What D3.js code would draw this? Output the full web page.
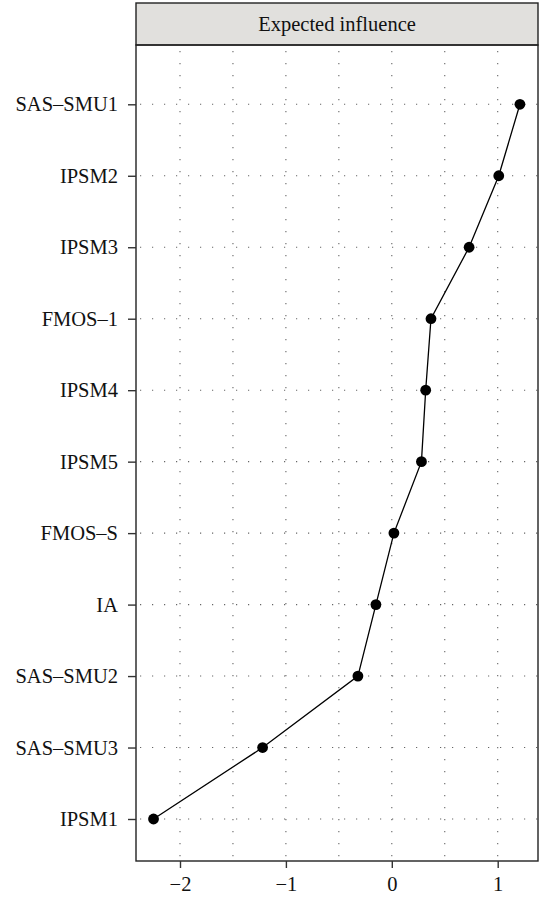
<!DOCTYPE html>
<html>
<head>
<meta charset="utf-8">
<script src="https://cdn.jsdelivr.net/npm/d3@7"></script>
<style>
  html, body { margin: 0; padding: 0; background: #fff; }
  svg { display: block; }
  text { font-family: "Liberation Serif", "DejaVu Serif", serif; fill: #111; }
</style>
</head>
<body>
<svg id="chart" width="545" height="904"></svg>
<script>
// Nodes in display order (top to bottom)
const nodes = ["SAS\u2013SMU1", "IPSM2", "IPSM3", "FMOS\u20131", "IPSM4", "IPSM5",
               "FMOS\u2013S", "IA", "SAS\u2013SMU2", "SAS\u2013SMU3", "IPSM1"];
// Expected influence (standardised)
const influence = [1.21, 1.01, 0.73, 0.37, 0.32, 0.28, 0.02, -0.15, -0.32, -1.22, -2.25];
const xTicks = [-2, -1, 0, 1];
const xGrid = [-2, -1.5, -1, -0.5, 0, 0.5, 1];
const stripTitle = "Expected influence";

const svg = d3.select("#chart");
const panel = { left: 136, right: 538, top: 45, bottom: 861 };
const strip = { top: 3, bottom: 45 };
const fontSize = 20.5;

const x = d3.scaleLinear().domain([-2, 1]).range([180, 497.7]);
const y = d3.scalePoint().domain(nodes).range([104.3, 819]);

const data = nodes.map((n, i) => ({ node: n, value: influence[i] }));

// Strip header
svg.append("rect")
  .attr("x", panel.left).attr("y", strip.top)
  .attr("width", panel.right - panel.left).attr("height", strip.bottom - strip.top)
  .attr("fill", "#e1e0dd").attr("stroke", "#222").attr("stroke-width", 1.4);
svg.append("text")
  .attr("x", (panel.left + panel.right) / 2).attr("y", 30.5)
  .attr("text-anchor", "middle").attr("font-size", fontSize)
  .text(stripTitle);

// Dotted reference grid
const grid = svg.append("g").attr("stroke", "#666").attr("stroke-width", 1.1)
  .attr("stroke-dasharray", "1.2,10.8");
grid.selectAll("line.v").data(xGrid).join("line").attr("class", "v")
  .attr("x1", d => x(d)).attr("x2", d => x(d))
  .attr("y1", panel.top + 6).attr("y2", panel.bottom);
grid.selectAll("line.h").data(nodes).join("line").attr("class", "h")
  .attr("x1", panel.left + 4).attr("x2", panel.right)
  .attr("y1", d => y(d)).attr("y2", d => y(d));

// Connecting line and points
const line = d3.line().x(d => x(d.value)).y(d => y(d.node));
svg.append("path").datum(data)
  .attr("d", line).attr("fill", "none").attr("stroke", "#000").attr("stroke-width", 1.3);
svg.selectAll("circle.pt").data(data).join("circle").attr("class", "pt")
  .attr("cx", d => x(d.value)).attr("cy", d => y(d.node))
  .attr("r", 5.4).attr("fill", "#000");

// Panel border
svg.append("rect")
  .attr("x", panel.left).attr("y", panel.top)
  .attr("width", panel.right - panel.left).attr("height", panel.bottom - panel.top)
  .attr("fill", "none").attr("stroke", "#222").attr("stroke-width", 1.4);

// Axes
const yAxis = d3.axisLeft(y).tickSize(8).tickPadding(10);
const gy = svg.append("g").attr("transform", `translate(${panel.left},0)`).call(yAxis);
const xAxis = d3.axisBottom(x).tickValues(xTicks).tickSize(7).tickPadding(8)
  .tickFormat(d => d < 0 ? "\u2212" + Math.abs(d) : String(d));
const gx = svg.append("g").attr("transform", `translate(0,${panel.bottom})`).call(xAxis);
[gx, gy].forEach(g => {
  g.select(".domain").remove();
  g.selectAll(".tick line").attr("stroke", "#333").attr("stroke-width", 1.4);
  g.selectAll(".tick text").attr("font-size", fontSize)
    .attr("font-family", "'Liberation Serif', 'DejaVu Serif', serif").attr("fill", "#111");
});
</script>
</body>
</html>
